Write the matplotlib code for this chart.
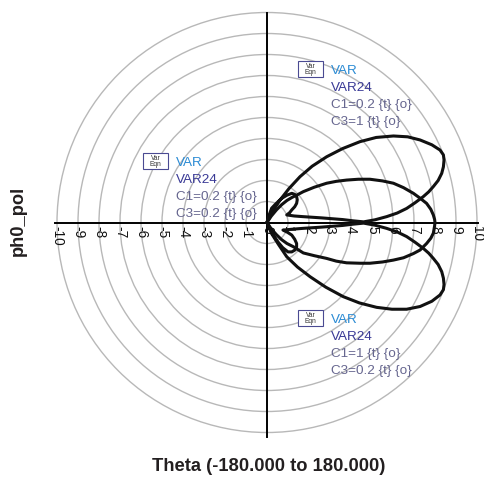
import numpy as np
import matplotlib
matplotlib.use('Agg')
import matplotlib.pyplot as plt
from matplotlib.patches import Circle, Rectangle

plt.rcParams['font.family'] = ['Liberation Sans', 'DejaVu Sans']

# ph0_pol traces (x = Re, y = Im)
# C1=0.2, C3=1 (beam up)
up_x = [0.0, 0.25, 0.62, 1.05, 1.57, 2.15, 2.84, 3.60, 4.43, 5.20, 6.02, 6.70, 7.29, 7.85, 8.24,
        8.40, 8.43, 8.40, 8.32, 8.15, 7.92, 7.70, 7.44, 7.05, 6.65, 6.20, 5.70, 5.15, 4.60,
        4.10, 3.60, 3.10, 2.60, 2.15, 1.70, 1.30, 0.94, 1.08, 1.18, 1.32, 1.41, 1.44, 1.41,
        1.32, 1.18, 0.95, 0.70, 0.45, 0.22, 0.08, 0.0]
up_y = [0.0, 0.50, 1.07, 1.62, 2.18, 2.68, 3.13, 3.52, 3.85, 4.05, 4.12, 4.08, 3.93, 3.70, 3.45,
        3.22, 2.98, 2.65, 2.34, 2.00, 1.71, 1.46, 1.23, 0.94, 0.67, 0.45, 0.28, 0.13, 0.03,
        0.08, 0.14, 0.18, 0.22, 0.25, 0.28, 0.31, 0.36, 0.47, 0.60, 0.75, 0.91, 1.08, 1.23,
        1.34, 1.39, 1.30, 1.15, 0.92, 0.68, 0.30, 0.0]

# C1=0.2, C3=0.2 (symmetric)
mid_x = [0.0, 0.20, 0.45, 0.70, 0.95, 1.20, 1.41, 1.73, 2.25, 2.84, 3.30, 3.79, 4.35, 4.90,
         5.50, 6.02, 6.50, 6.97, 7.30, 7.60, 7.80, 7.92, 7.98, 8.00,
         7.98, 7.92, 7.80, 7.60, 7.29, 6.97, 6.50, 6.02, 5.50, 4.90, 4.43, 3.79, 3.30, 2.84,
         2.25, 1.73, 1.25, 0.95, 0.70, 0.45, 0.20, 0.0]
mid_y = [0.0, 0.30, 0.60, 0.85, 1.05, 1.20, 1.30, 1.47, 1.68, 1.87, 1.96, 2.02, 2.06, 2.06,
         1.98, 1.87, 1.66, 1.39, 1.15, 0.91, 0.63, 0.36, 0.15, 0.0,
         -0.17, -0.51, -0.75, -1.00, -1.31, -1.48, -1.68, -1.79, -1.88, -1.94, -1.94, -1.92,
         -1.84, -1.71, -1.58, -1.45, -1.15, -1.00, -0.82, -0.58, -0.30, 0.0]

# C1=1, C3=0.2 (beam down)
lo_x = [0.0, 0.20, 0.55, 0.94, 1.45, 2.05, 2.80, 3.63, 4.40, 5.22, 5.95, 6.65, 7.29, 7.85,
        8.24, 8.40, 8.43, 8.40, 8.32, 8.15, 7.92, 7.70, 7.44, 7.05, 6.65, 6.20, 5.70, 5.15,
        4.60, 4.10, 3.60, 3.10, 2.60, 2.15, 1.70, 1.20, 0.76, 0.98, 1.18, 1.32, 1.41, 1.41,
        1.33, 1.18, 1.00, 0.75, 0.50, 0.25, 0.0]
lo_y = [0.0, -0.50, -1.05, -1.63, -2.12, -2.58, -3.08, -3.53, -3.83, -4.04, -4.13, -4.13,
        -4.00, -3.75, -3.45, -3.20, -2.95, -2.65, -2.34, -2.00, -1.71, -1.46, -1.23, -0.94,
        -0.67, -0.45, -0.28, -0.13, -0.03, -0.08, -0.14, -0.18, -0.22, -0.25, -0.28, -0.32,
        -0.36, -0.47, -0.60, -0.80, -1.00, -1.18, -1.31, -1.40, -1.40, -1.20, -0.90, -0.50,
        0.0]

rings = [1, 2, 3, 4, 5, 6, 7, 8, 9, 10]
tick_vals = list(range(-10, 11))

legends = [
    ((298, 61), ['VAR', 'VAR24', 'C1=0.2 {t} {o}', 'C3=1 {t} {o}']),
    ((143, 153), ['VAR', 'VAR24', 'C1=0.2 {t} {o}', 'C3=0.2 {t} {o}']),
    ((298, 310), ['VAR', 'VAR24', 'C1=1 {t} {o}', 'C3=0.2 {t} {o}']),
]

W, H = 484, 479
CX, CY, S = 267.0, 222.5, 21.0


def px(x, y):
    # pixel position -> data coords
    return (x - CX) / S, (CY - y) / S


fig = plt.figure(figsize=(W / 100, H / 100), dpi=100)
ax = fig.add_axes([0, 0, 1, 1])
ax.set_xlim(px(0, 0)[0], px(W, 0)[0])
ax.set_ylim(px(0, H)[1], px(0, 0)[1])
ax.axis('off')

for r in rings:
    ax.add_patch(Circle((0, 0), r, fill=False, edgecolor='#b8b8b8', lw=1.0, zorder=1))

ax.plot([-10.1, 10.05], [0, 0], color='black', lw=1.4, zorder=2)
ax.plot([0, 0], [-10.2, 10.0], color='black', lw=1.4, zorder=2)

for t in tick_vals:
    ax.text(t, -0.15, str(t), rotation=-90, ha='center', va='top', fontsize=9.8,
            color='#111111', zorder=3)

for xs, ys in [(up_x, up_y), (mid_x, mid_y), (lo_x, lo_y)]:
    ax.plot(xs, ys, color='#111111', lw=2.2, solid_joinstyle='round',
            solid_capstyle='round', zorder=4)

colors = ['#2b8bd4', '#3a3a96', '#66668f', '#66668f']
for (bx, by), lines in legends:
    x0, y0 = px(bx, by + 16)
    ax.add_patch(Rectangle((x0, y0), 25 / S, 16 / S, facecolor='white',
                           edgecolor='#4a4a92', lw=0.8, zorder=5))
    tx, ty = px(bx + 12.5, by + 5)
    ax.text(tx, ty, 'Var', fontsize=4.8, ha='center', va='center', color='#333333', zorder=6)
    tx, ty = px(bx + 12.5, by + 11.5)
    ax.text(tx, ty, 'Eqn', fontsize=4.8, ha='center', va='center', color='#333333', zorder=6)
    for i, s in enumerate(lines):
        tx, ty = px(bx + 33, by + 9.5 + 17 * i)
        ax.text(tx, ty, s, fontsize=9.7, ha='left', va='center', color=colors[i], zorder=6)

tx, ty = px(269, 466)
ax.text(tx, ty, 'Theta (-180.000 to 180.000)', fontsize=13.2, fontweight='bold',
        ha='center', va='center', color='#231f20')
tx, ty = px(18, 221)
ax.text(tx, ty, 'ph0_pol', fontsize=13.2, fontweight='bold', rotation=90,
        ha='center', va='center', color='#231f20')

fig.savefig('out.png', dpi=100)
